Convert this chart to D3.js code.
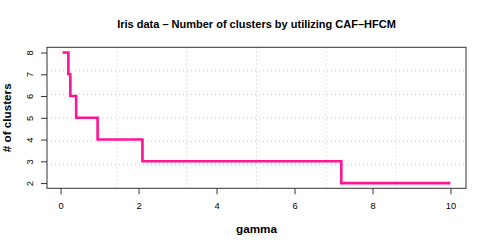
<!DOCTYPE html>
<html lang="en">
<head>
<meta charset="utf-8">
<title>CAF-HFCM clusters</title>
<script src="https://cdn.jsdelivr.net/npm/d3@7"></script>
<style>
  body { margin: 0; background: #fff; }
  text { font-family: "Liberation Sans", Arial, Helvetica, sans-serif; fill: #000; }
</style>
</head>
<body>
<script>
  // step data: number of clusters as gamma grows
  var gamma = [0.05, 0.2, 0.25, 0.4, 0.95, 2.1, 7.2, 10];
  var clusters = [8, 7, 6, 5, 4, 3, 2, 2];
  var xTicks = [0, 2, 4, 6, 8, 10];
  var yTicks = [2, 3, 4, 5, 6, 7, 8];

  var W = 491, H = 247;
  var box = { left: 47, right: 466, top: 47.3, bottom: 188.3 };

  var svg = d3.select('body').append('svg')
    .attr('width', W).attr('height', H);

  // R style axis range: data range extended by 4%
  var xr = d3.extent(gamma), yr = d3.extent(clusters);
  var xpad = (xr[1] - xr[0]) * 0.04, ypad = (yr[1] - yr[0]) * 0.04;
  var x = d3.scaleLinear().domain([xr[0] - xpad, xr[1] + xpad]).range([box.left, box.right]);
  var y = d3.scaleLinear().domain([yr[0] - ypad, yr[1] + ypad]).range([box.bottom, box.top]);

  // grid(6, 6): equal cells over the plot region
  var gx = d3.range(1, 6).map(function (i) { return x.domain()[0] + i * (x.domain()[1] - x.domain()[0]) / 6; });
  var gy = d3.range(1, 6).map(function (i) { return y.domain()[0] + i * (y.domain()[1] - y.domain()[0]) / 6; });

  var grid = svg.append('g')
    .attr('stroke', '#c8c8c8')
    .attr('stroke-width', 1)
    .attr('stroke-dasharray', '1,3');
  grid.selectAll('.gx').data(gx).enter().append('line')
    .attr('x1', function (d) { return x(d); }).attr('x2', function (d) { return x(d); })
    .attr('y1', box.top).attr('y2', box.bottom);
  grid.selectAll('.gy').data(gy).enter().append('line')
    .attr('y1', function (d) { return y(d); }).attr('y2', function (d) { return y(d); })
    .attr('x1', box.left).attr('x2', box.right);

  // line
  var line = d3.line()
    .x(function (d, i) { return x(gamma[i]); })
    .y(function (d) { return y(d); })
    .curve(d3.curveStepAfter);
  svg.append('path')
    .attr('d', line(clusters))
    .attr('fill', 'none')
    .attr('stroke', '#ff1493')
    .attr('stroke-width', 2.6);

  // axes
  var xAxis = svg.append('g')
    .attr('transform', 'translate(0,' + box.bottom + ')')
    .call(d3.axisBottom(x).tickValues(xTicks).tickSize(6).tickPadding(4).tickFormat(d3.format('d')));
  var yAxis = svg.append('g')
    .attr('transform', 'translate(' + box.left + ',0)')
    .call(d3.axisLeft(y).tickValues(yTicks).tickSize(6).tickFormat(d3.format('d')));
  xAxis.select('.domain').remove();
  yAxis.select('.domain').remove();
  svg.selectAll('.tick line').attr('stroke', '#333');
  xAxis.selectAll('text')
    .attr('font-size', 9.3).attr('font-family', null)
    .attr('dy', null).attr('y', 20.5);
  yAxis.selectAll('text')
    .attr('font-size', 9.3).attr('font-family', null)
    .attr('text-anchor', 'middle')
    .attr('dy', null).attr('x', null)
    .attr('transform', 'translate(-14,0) rotate(-90)')
    .attr('y', 0);

  // box
  svg.append('rect')
    .attr('x', box.left).attr('y', box.top)
    .attr('width', box.right - box.left).attr('height', box.bottom - box.top)
    .attr('fill', 'none').attr('stroke', '#333').attr('stroke-width', 1);

  // titles
  svg.append('text')
    .attr('x', 256.5).attr('y', 28)
    .attr('text-anchor', 'middle')
    .attr('font-weight', 'bold')
    .attr('font-size', 11)
    .text('Iris data \u2013 Number of clusters by utilizing CAF\u2013HFCM');
  svg.append('text')
    .attr('x', 256.5).attr('y', 233)
    .attr('text-anchor', 'middle')
    .attr('font-weight', 'bold')
    .attr('font-size', 11.7)
    .text('gamma');
  svg.append('text')
    .attr('transform', 'translate(11,117.8) rotate(-90)')
    .attr('text-anchor', 'middle')
    .attr('font-weight', 'bold')
    .attr('font-size', 11.7)
    .text('# of clusters');
</script>
</body>
</html>
